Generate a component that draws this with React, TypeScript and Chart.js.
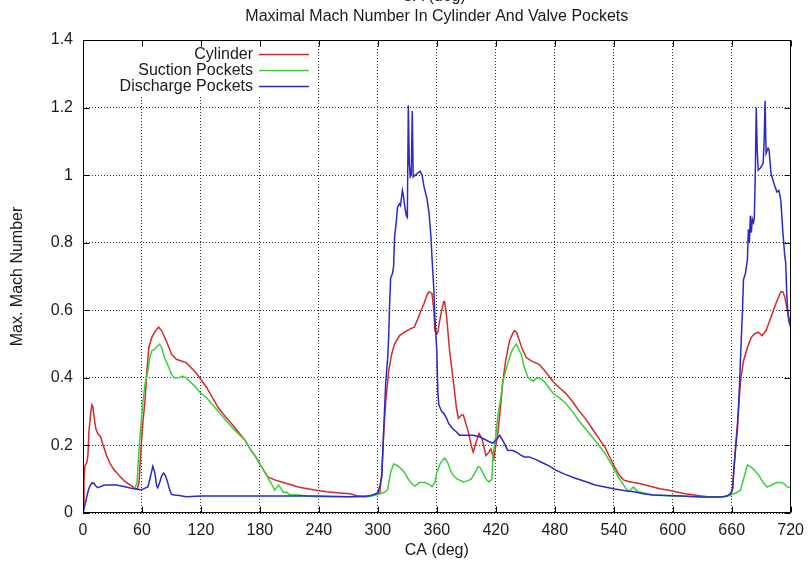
import { useEffect, useRef } from "react";
import { Chart, registerables } from "chart.js";

Chart.register(...registerables);

const FONT = '"Liberation Sans", Arial, Helvetica, sans-serif';
const TEXT = "#1a1a1a";
const FS = 16;

const chartTitle = "Maximal Mach Number In Cylinder And Valve Pockets";
const topAxisTitle = "CA (deg)";
const xTitle = "CA (deg)";
const yTitle = "Max. Mach Number";
const xMin = 0;
const xMax = 720;
const xStep = 60;
const yMin = 0;
const yMax = 1.4;
const yStep = 0.2;

const seriesNames = ["Cylinder", "Suction Pockets", "Discharge Pockets"];
const seriesColors = ["#d42a2a", "#3ccf3c", "#2a2ac8"];

// [crank angle (deg), max Mach number]
const cylinder: [number, number][] = [
  [0, 0.02], [1, 0.1], [2, 0.14], [4, 0.15], [5, 0.17], [6, 0.24], [8, 0.3], [9, 0.32], [10, 0.315],
  [11, 0.29], [13, 0.25], [15, 0.235], [18, 0.225], [20, 0.205], [24, 0.17], [27, 0.15], [31, 0.13],
  [37, 0.11], [42, 0.095], [47, 0.085], [52, 0.075], [55, 0.07], [57, 0.09], [59, 0.19], [61, 0.27],
  [63, 0.33], [65, 0.42], [67, 0.49], [70, 0.52], [74, 0.54], [77, 0.55], [80, 0.54], [83, 0.52],
  [86, 0.5], [90, 0.47], [95, 0.455], [100, 0.45], [105, 0.445], [110, 0.43], [115, 0.415], [120, 0.395],
  [126, 0.37], [132, 0.34], [138, 0.31], [145, 0.285], [151, 0.265], [158, 0.24], [165, 0.215],
  [170, 0.19], [176, 0.165], [182, 0.135], [188, 0.107], [195, 0.098], [202, 0.092], [210, 0.085],
  [219, 0.077], [228, 0.072], [236, 0.068], [248, 0.063], [259, 0.06], [272, 0.057], [280, 0.05],
  [286, 0.048], [292, 0.05], [299, 0.055], [302, 0.06], [304, 0.12], [306, 0.24], [308, 0.33],
  [311, 0.42], [314, 0.47], [317, 0.5], [322, 0.525], [327, 0.535], [333, 0.545], [337, 0.55],
  [340, 0.57], [344, 0.6], [347, 0.62], [350, 0.645], [352, 0.655], [355, 0.65], [357, 0.6],
  [358, 0.54], [360, 0.53], [361, 0.535], [363, 0.57], [365, 0.6], [367, 0.625], [368, 0.625],
  [370, 0.58], [373, 0.48], [377, 0.385], [380, 0.31], [382, 0.28], [385, 0.29], [387, 0.29],
  [390, 0.26], [392, 0.24], [395, 0.2], [397, 0.18], [400, 0.21], [403, 0.235], [406, 0.22],
  [410, 0.17], [413, 0.18], [415, 0.19], [418, 0.16], [420, 0.2], [422, 0.235], [425, 0.32],
  [427, 0.385], [430, 0.45], [434, 0.51], [437, 0.53], [439, 0.54], [441, 0.535], [444, 0.51],
  [447, 0.485], [451, 0.46], [456, 0.45], [460, 0.445], [464, 0.44], [470, 0.42], [478, 0.39],
  [485, 0.37], [491, 0.355], [498, 0.33], [504, 0.305], [511, 0.28], [518, 0.25], [525, 0.22],
  [531, 0.195], [536, 0.165], [541, 0.136], [545, 0.115], [550, 0.098], [555, 0.093], [560, 0.09],
  [565, 0.088], [572, 0.083], [579, 0.078], [587, 0.072], [595, 0.068], [604, 0.062], [613, 0.057],
  [622, 0.053], [635, 0.048], [649, 0.047], [655, 0.05], [659, 0.053], [661, 0.07], [662, 0.12],
  [664, 0.2], [666, 0.27], [669, 0.39], [672, 0.45], [676, 0.49], [680, 0.52], [683, 0.53],
  [687, 0.535], [691, 0.525], [695, 0.54], [700, 0.58], [705, 0.62], [710, 0.655], [712, 0.655],
  [714, 0.64], [716, 0.61], [718, 0.58], [720, 0.56],
];

const suctionPockets: [number, number][] = [
  [50, 0.075], [53, 0.075], [55, 0.09], [57, 0.19], [59, 0.26], [61, 0.33], [63, 0.38], [66, 0.42],
  [68, 0.46], [70, 0.48], [73, 0.485], [76, 0.495], [78, 0.5], [80, 0.49], [83, 0.46], [86, 0.44],
  [90, 0.41], [93, 0.4], [97, 0.4], [101, 0.405], [105, 0.4], [110, 0.385], [114, 0.375], [118, 0.36],
  [122, 0.35], [126, 0.34], [132, 0.32], [138, 0.3], [145, 0.275], [151, 0.255], [158, 0.235],
  [165, 0.215], [170, 0.19], [176, 0.165], [182, 0.135], [188, 0.105], [192, 0.085], [195, 0.068],
  [197, 0.075], [199, 0.083], [202, 0.07], [204, 0.06], [207, 0.062], [210, 0.055], [215, 0.054],
  [219, 0.053], [228, 0.05], [236, 0.048], [250, 0.048], [270, 0.048], [290, 0.048], [300, 0.055],
  [305, 0.06], [308, 0.063], [310, 0.07], [313, 0.12], [316, 0.145], [320, 0.14], [324, 0.13],
  [327, 0.12], [331, 0.1], [335, 0.085], [338, 0.08], [342, 0.09], [346, 0.09], [348, 0.09],
  [352, 0.085], [355, 0.078], [358, 0.09], [360, 0.12], [364, 0.15], [368, 0.163], [371, 0.15],
  [374, 0.125], [377, 0.11], [381, 0.1], [387, 0.092], [391, 0.095], [395, 0.1], [399, 0.12],
  [402, 0.137], [404, 0.135], [407, 0.118], [410, 0.1], [413, 0.092], [416, 0.1], [417, 0.166],
  [420, 0.23], [422, 0.285], [425, 0.34], [427, 0.385], [430, 0.42], [434, 0.46], [437, 0.485],
  [441, 0.5], [444, 0.48], [446, 0.47], [449, 0.43], [453, 0.4], [458, 0.39], [462, 0.4], [464, 0.4],
  [467, 0.395], [469, 0.39], [473, 0.375], [478, 0.355], [485, 0.34], [491, 0.325], [498, 0.3],
  [504, 0.275], [511, 0.25], [518, 0.225], [525, 0.2], [531, 0.177], [536, 0.152], [541, 0.127],
  [545, 0.105], [550, 0.083], [553, 0.07], [555, 0.063], [557, 0.068], [560, 0.077], [562, 0.07],
  [565, 0.063], [570, 0.06], [579, 0.053], [590, 0.052], [600, 0.05], [620, 0.049], [640, 0.048],
  [655, 0.049], [660, 0.055], [665, 0.06], [669, 0.068], [672, 0.1], [676, 0.142], [680, 0.135],
  [683, 0.127], [688, 0.11], [692, 0.09], [696, 0.077], [700, 0.082], [706, 0.09], [711, 0.09],
  [714, 0.085], [716, 0.078], [720, 0.075],
];

const dischargePockets: [number, number][] = [
  [0, 0.0], [2, 0.024], [4, 0.05], [5, 0.062], [7, 0.08], [9, 0.089], [11, 0.088], [13, 0.08],
  [15, 0.075], [18, 0.078], [21, 0.082], [24, 0.083], [29, 0.083], [34, 0.083], [39, 0.08],
  [44, 0.077], [48, 0.074], [52, 0.072], [56, 0.07], [59, 0.068], [62, 0.072], [66, 0.077],
  [68, 0.1], [71, 0.138], [73, 0.12], [75, 0.08], [76, 0.075], [78, 0.09], [80, 0.11], [82, 0.118],
  [84, 0.11], [86, 0.092], [88, 0.07], [90, 0.055], [93, 0.053], [98, 0.052], [105, 0.048],
  [120, 0.05], [150, 0.05], [180, 0.05], [210, 0.05], [240, 0.05], [270, 0.048], [290, 0.05],
  [296, 0.055], [300, 0.06], [302, 0.08], [304, 0.107], [306, 0.25], [308, 0.385], [310, 0.46],
  [311, 0.52], [312, 0.62], [313, 0.695], [315, 0.71], [316, 0.73], [317, 0.815], [319, 0.87],
  [320, 0.905], [322, 0.915], [323, 0.91], [325, 0.955], [326, 0.94], [327, 0.915], [329, 0.88],
  [330, 0.875], [331, 1.207], [332, 1.035], [333, 0.995], [334, 1.0], [335, 1.19], [336, 0.995],
  [338, 1.0], [340, 1.005], [342, 1.01], [343, 1.012], [345, 1.0], [347, 0.965], [350, 0.93],
  [352, 0.89], [354, 0.82], [355, 0.76], [357, 0.66], [358, 0.58], [360, 0.48], [361, 0.36],
  [362, 0.32], [365, 0.3], [367, 0.295], [370, 0.28], [372, 0.265], [376, 0.25], [380, 0.24],
  [383, 0.23], [390, 0.23], [397, 0.23], [404, 0.225], [410, 0.216], [414, 0.21], [417, 0.207],
  [420, 0.215], [424, 0.23], [428, 0.21], [432, 0.186], [437, 0.185], [441, 0.18], [445, 0.172],
  [449, 0.166], [454, 0.166], [461, 0.158], [468, 0.148], [475, 0.138], [481, 0.127], [490, 0.115],
  [501, 0.103], [511, 0.093], [521, 0.083], [531, 0.077], [541, 0.071], [552, 0.066], [562, 0.062],
  [570, 0.057], [580, 0.053], [595, 0.052], [610, 0.05], [629, 0.047], [649, 0.047], [655, 0.05],
  [659, 0.058], [661, 0.075], [662, 0.12], [664, 0.19], [666, 0.255], [668, 0.38], [669, 0.46],
  [671, 0.6], [672, 0.69], [674, 0.71], [676, 0.75], [677, 0.84], [678, 0.8], [679, 0.88],
  [680, 0.83], [681, 0.87], [682, 0.86], [683, 0.87], [684, 1.0], [685, 1.2], [686, 1.07],
  [687, 1.015], [689, 1.02], [690, 1.025], [692, 1.035], [693, 1.1], [694, 1.22], [695, 1.065],
  [697, 1.08], [698, 1.075], [700, 1.005], [703, 0.975], [706, 0.95], [708, 0.955], [710, 0.925],
  [712, 0.835], [714, 0.76], [715, 0.74], [716, 0.65], [717, 0.6], [718, 0.57], [720, 0.55],
];

const seriesData = [cylinder, suctionPockets, dischargePockets];

const gnuplotPlugin = {
  id: "gnuplotDecor",
  beforeDatasetsDraw(chart: any) {
    // key box clears grid behind it
    const { ctx, chartArea: a } = chart;
    ctx.save();
    ctx.fillStyle = "#ffffff";
    ctx.fillRect(a.left + 1, a.top + 1, 316 - a.left, 95 - a.top);
    ctx.restore();
  },
  afterDraw(chart: any) {
    const { ctx, chartArea: a, scales } = chart;
    ctx.save();
    ctx.strokeStyle = "#000";
    ctx.lineWidth = 1;
    const L = Math.round(a.left) + 0.5;
    const R = Math.round(a.right) - 0.5;
    const T = Math.round(a.top) + 0.5;
    const B = Math.round(a.bottom) - 0.5;
    ctx.beginPath();
    ctx.rect(L, T, R - L, B - T);
    ctx.stroke();
    const tl = 6;
    ctx.beginPath();
    for (const t of scales.x.ticks) {
      const px = Math.round(scales.x.getPixelForValue(t.value)) + 0.5;
      ctx.moveTo(px, B);
      ctx.lineTo(px, B - tl);
      ctx.moveTo(px, T);
      ctx.lineTo(px, T + tl);
    }
    for (const t of scales.y.ticks) {
      const py = Math.round(scales.y.getPixelForValue(t.value)) + 0.5;
      ctx.moveTo(L, py);
      ctx.lineTo(L + tl, py);
      ctx.moveTo(R, py);
      ctx.lineTo(R - tl, py);
    }
    ctx.stroke();

    // titles
    ctx.fillStyle = TEXT;
    ctx.font = `${FS}px ${FONT}`;
    ctx.textAlign = "center";
    ctx.textBaseline = "middle";
    const cx = (a.left + a.right) / 2;
    ctx.fillText(topAxisTitle, cx - 3, -3);
    ctx.fillText(chartTitle, cx, 17);

    // key
    ctx.textAlign = "right";
    seriesNames.forEach((name, i) => {
      const y = 54.5 + i * 16;
      ctx.fillStyle = TEXT;
      ctx.fillText(name, 253, y);
      ctx.strokeStyle = seriesColors[i];
      ctx.lineWidth = 1.5;
      ctx.beginPath();
      ctx.moveTo(259, y);
      ctx.lineTo(309, y);
      ctx.stroke();
    });
    ctx.restore();
  },
};

export default function App() {
  const ref = useRef<HTMLCanvasElement | null>(null);

  useEffect(() => {
    document.body.style.margin = "0";
    const canvas = ref.current;
    if (!canvas) return;
    const chart = new Chart(canvas, {
      type: "line",
      data: {
        datasets: seriesNames.map((name, i) => ({
          label: name,
          data: seriesData[i].map(([x, y]) => ({ x, y })),
          borderColor: seriesColors[i],
          backgroundColor: seriesColors[i],
          borderWidth: 1.5,
          pointRadius: 0,
          tension: 0,
          fill: false,
          order: 3 - i,
        })),
      },
      options: {
        animation: false,
        responsive: false,
        devicePixelRatio: 1,
        layout: { padding: { left: 0, top: 40, right: 15, bottom: 0 } },
        plugins: {
          legend: { display: false },
          tooltip: { enabled: false },
          title: { display: false },
        },
        scales: {
          x: {
            type: "linear",
            min: xMin,
            max: xMax,
            afterFit: (s: any) => {
              s.height = 50;
            },
            ticks: {
              stepSize: xStep,
              autoSkip: false,
              maxRotation: 0,
              padding: 8,
              color: TEXT,
              font: { family: FONT, size: FS },
            },
            grid: { color: "rgba(0,0,0,0.8)", lineWidth: 1, drawTicks: false },
            border: { display: false, dash: [1, 2] },
            title: {
              display: true,
              text: xTitle,
              color: TEXT,
              font: { family: FONT, size: FS },
              padding: { top: 0, bottom: 3 },
            },
          },
          y: {
            type: "linear",
            min: yMin,
            max: yMax,
            afterFit: (s: any) => {
              s.width = 83;
            },
            ticks: {
              stepSize: yStep,
              padding: 10,
              color: TEXT,
              font: { family: FONT, size: FS },
              callback: (v: any) => String(+Number(v).toFixed(1)),
            },
            grid: { color: "rgba(0,0,0,0.8)", lineWidth: 1, drawTicks: false },
            border: { display: false, dash: [1, 2] },
            title: {
              display: true,
              text: yTitle,
              color: TEXT,
              font: { family: FONT, size: FS },
              padding: { top: 8, bottom: 0 },
            },
          },
        },
      },
      plugins: [gnuplotPlugin],
    });
    return () => chart.destroy();
  }, []);

  return (
    <div style={{ width: 812, height: 563, position: "relative" }}>
      <canvas ref={ref} width={812} height={563} />
    </div>
  );
}
